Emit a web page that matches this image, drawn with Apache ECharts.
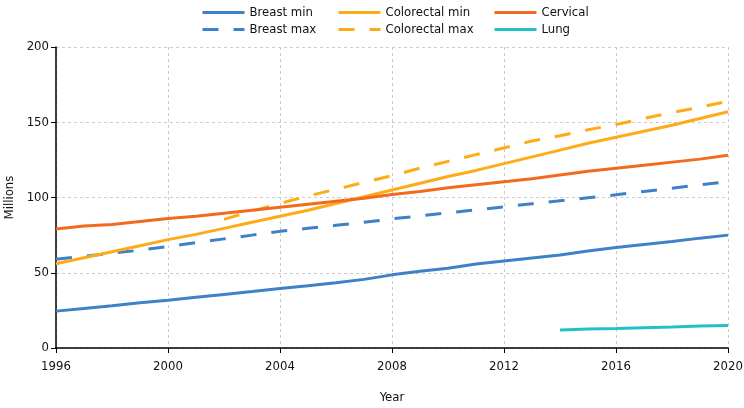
<!DOCTYPE html>
<html><head><meta charset="utf-8">
<script src="https://cdn.jsdelivr.net/npm/echarts@6/dist/echarts.min.js"></script>
<style>html,body{margin:0;padding:0;background:#fff}#c{width:744px;height:408px}</style>
</head><body><div id="c"></div>
<script>
var years = [1996,1997,1998,1999,2000,2001,2002,2003,2004,2005,2006,2007,2008,2009,2010,2011,2012,2013,2014,2015,2016,2017,2018,2019,2020];
var breastMin = [24.5,26.3,28.1,30,31.8,33.7,35.6,37.5,39.5,41.4,43.4,45.6,48.6,51,53,55.8,57.8,59.8,61.8,64.5,66.8,68.8,70.8,73,75];
var breastMax = [59,61,63,65,67.5,70,72.5,75,77.5,79.5,81.5,83.5,85.8,87.8,89.8,91.8,93.8,95.8,97.8,99.8,101.8,104,106.2,108.4,110.6];
var colorectalMin = [56,60,64,68,72,75.5,79.5,83.5,87.5,91.5,96,100.5,105,109.5,114,118,122.5,127,131.5,136,140,144,148,152.5,157];
var colorectalMax = [null,null,null,null,null,null,85.5,91,96,101,105.5,110,114.5,119.5,124,128.5,133,137.5,141,145,148.5,152.5,156.5,160,164];
var cervical = [79,81,82,84,86,87.5,89.5,91.5,93.5,95.5,97.5,99.5,102,104,106.5,108.5,110.5,112.5,115,117.5,119.5,121.5,123.5,125.5,128];
var lung = [null,null,null,null,null,null,null,null,null,null,null,null,null,null,null,null,null,null,12,12.7,13,13.5,14,14.7,15];

var FONT = '"DejaVu Sans Condensed", "Liberation Sans Narrow", "Roboto", sans-serif';
var BLUE = '#3f81c7', YEL = '#fdab17', ORG = '#f26b1d', TEAL = '#21c2c5';
function pairs(v){ return years.map(function(y,i){ return [y, v[i]]; }).filter(function(p){ return p[1] !== null; }); }
function mk(name, vals, color, dashed){
  return { name: name, type: 'line', data: pairs(vals), showSymbol: false, symbol: 'none',
    lineStyle: { color: color, width: 3, type: dashed ? [16,15] : 'solid' }, itemStyle: { color: color } };
}
var chart = echarts.init(document.getElementById('c'));
var legText = { fontFamily: FONT, fontSize: 13, color: '#111' };
function leg(items, left){
  return { data: items, orient: 'vertical', left: left, top: 1, itemWidth: 42, itemHeight: 12, itemGap: 4,
    textStyle: legText, itemStyle: { opacity: 0 }, lineStyle: { width: 3 } };
}
chart.setOption({
  animation: false,
  legend: [ leg(['Breast min','Breast max'], 196), leg(['Colorectal min','Colorectal max'], 332), leg(['Cervical','Lung'], 488) ],
  grid: { left: 56, right: 16, top: 47, bottom: 60, containLabel: false, outerBoundsMode: 'none' },
  xAxis: { type: 'value', min: 1996, max: 2020, interval: 4, name: 'Year', nameLocation: 'middle', nameGap: 43,
    nameTextStyle: { fontFamily: FONT, fontSize: 13, color: '#111' },
    axisLine: { lineStyle: { color: '#000', width: 1.5 } }, axisTick: { length: 5, lineStyle: { color: '#000' } },
    axisLabel: { fontFamily: FONT, fontSize: 13, color: '#111', margin: 12, formatter: function(v){ return String(v); } },
    splitLine: { show: true, lineStyle: { color: '#ccc', type: [3,3] } } },
  yAxis: { type: 'value', min: 0, max: 200, interval: 50, name: 'Millions', nameLocation: 'middle', nameGap: 34,
    nameTextStyle: { fontFamily: FONT, fontSize: 13, color: '#111' },
    axisLine: { show: true, lineStyle: { color: '#000', width: 1.5 } }, axisTick: { show: true, length: 5, lineStyle: { color: '#000' } },
    axisLabel: { fontFamily: FONT, fontSize: 13, color: '#111', margin: 7 },
    splitLine: { show: true, lineStyle: { color: '#ccc', type: [3,3] } } },
  series: [
    mk('Breast min', breastMin, BLUE, false),
    mk('Breast max', breastMax, BLUE, true),
    mk('Colorectal min', colorectalMin, YEL, false),
    mk('Colorectal max', colorectalMax, YEL, true),
    mk('Cervical', cervical, ORG, false),
    mk('Lung', lung, TEAL, false)
  ]
});
</script></body></html>
